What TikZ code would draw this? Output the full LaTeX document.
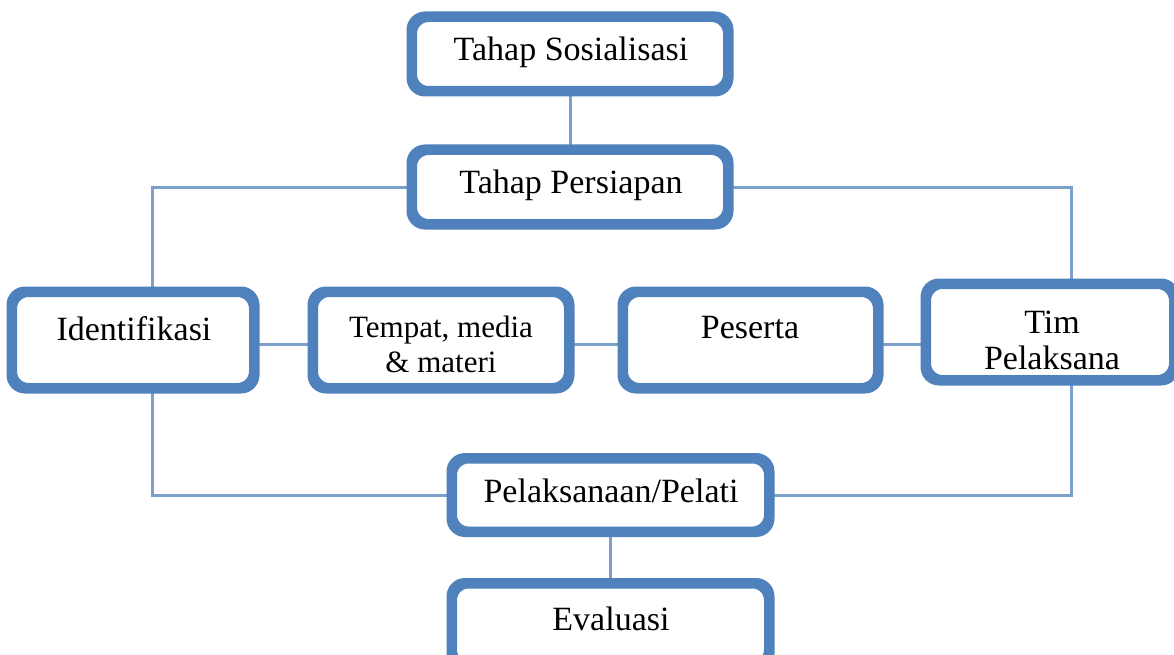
\documentclass[tikz,border=0pt]{standalone}
\usepackage{fontspec}
\setmainfont{Liberation Serif}
\usetikzlibrary{calc}
\begin{document}
\begin{tikzpicture}[x=1pt,y=-1pt,
  box/.style={draw=boxblue,line width=7pt,rounded corners=15pt,fill=white,inner sep=0pt},
  lbl/.style={font=\fontsize{34}{36}\selectfont,align=center,text=black,inner sep=0pt},
  conn/.style={draw=lineblue,line width=3pt}]
\definecolor{boxblue}{HTML}{4F81BD}
\definecolor{lineblue}{HTML}{7BA0CB}
\clip (0,0) rectangle (1174,655);
\useasboundingbox (0,0) rectangle (1174,655);
\coordinate (cl) at (152,187);
\coordinate (cr) at (1071,187);
\coordinate (bl) at (152,495);
\coordinate (br) at (1071,495);
% boxes
\node[box,minimum width=313pt,minimum height=71pt] (sos) at (570,54) {};
\node[box,minimum width=313pt,minimum height=71pt] (per) at (570,187) {};
\node[box,minimum width=239pt,minimum height=93pt] (idf) at (133,340) {};
\node[box,minimum width=253pt,minimum height=93pt] (tmp) at (441,340) {};
\node[box,minimum width=252pt,minimum height=93pt] (pes) at (750.5,340) {};
\node[box,minimum width=245pt,minimum height=93pt] (tim) at (1050,332) {};
\node[box,minimum width=314pt,minimum height=70pt] (pel) at (610.5,495) {};
\node[box,minimum width=314pt,minimum height=80pt] (eva) at (610.5,625) {};
% connectors
\draw[conn] (sos.south) -- (per.north);
\draw[conn] (per.west) -- (cl) -- (cl |- idf.north);
\draw[conn] (per.east) -- (cr) -- (cr |- tim.north);
\draw[conn] (idf.east |- 0,344) -- (tmp.west |- 0,344);
\draw[conn] (tmp.east |- 0,344) -- (pes.west |- 0,344);
\draw[conn] (pes.east |- 0,344) -- (tim.west |- 0,344);
\draw[conn] (bl |- idf.south) -- (bl) -- (pel.west |- bl);
\draw[conn] (br |- tim.south) -- (br) -- (pel.east |- br);
\draw[conn] (pel.south) -- (eva.north);
% redraw box borders over connectors
\foreach \n in {sos,per,idf,tmp,pes,tim,pel,eva}{
  \draw[draw=boxblue,line width=7pt,rounded corners=15pt] (\n.south west) rectangle (\n.north east);
}
% labels
\node[lbl] (sost) at (571,52) {Tahap Sosialisasi};
\node[lbl] (pert) at (571,185) {Tahap Persiapan};
\node[lbl] (idft) at (134,329) {Identifikasi};
\node[lbl,font=\fontsize{31}{35}\selectfont] (tmpt) at (441,344) {Tempat, media\\\& materi};
\node[lbl] (pest) at (750,328) {Peserta};
\begin{scope}
\clip ($(tim.south west)+(4,-4)$) rectangle ($(tim.north east)+(-4,4)$);
\node[lbl] (timt) at (1052,340) {Tim\\Pelaksana};
\end{scope}
\node[lbl] (pelt) at (611,491) {Pelaksanaan/Pelati};
\node[lbl] (evat) at (611,619) {Evaluasi};
\end{tikzpicture}
\end{document}
